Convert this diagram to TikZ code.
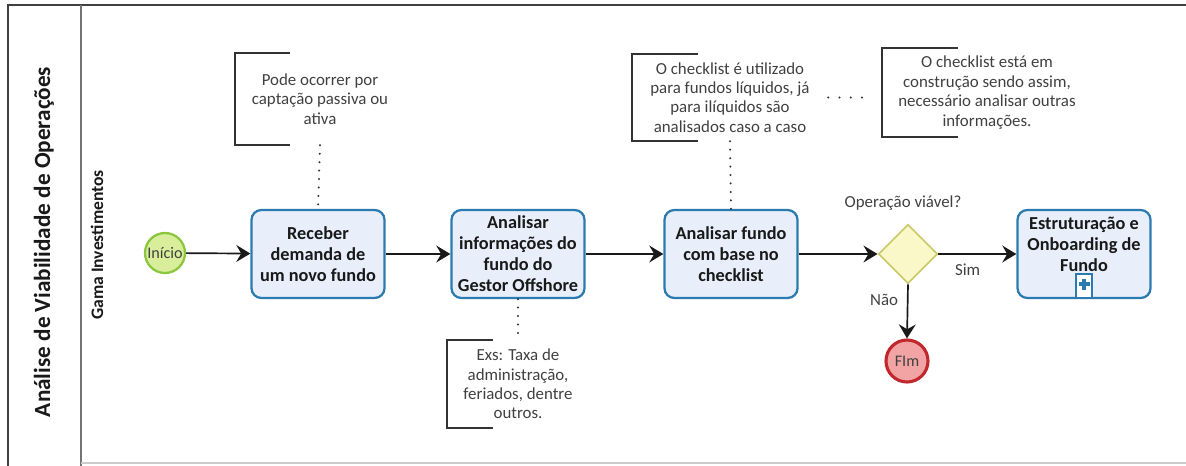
\documentclass[tikz,border=0pt]{standalone}
\usepackage{fontspec}
\setmainfont{Carlito}
\usepackage{tikz}
\usetikzlibrary{arrows.meta,shapes.geometric,positioning}

\definecolor{tarefaborda}{HTML}{2C7BB0}
\definecolor{tarefafundo}{HTML}{E8EEFA}
\definecolor{inicioborda}{HTML}{8CC63F}
\definecolor{iniciofundo}{HTML}{D8EE9A}
\definecolor{fimborda}{HTML}{C0282D}
\definecolor{fimfundo}{HTML}{F2A3A3}
\definecolor{gwborda}{HTML}{C8C86A}
\definecolor{gwfundo}{HTML}{FAF8C8}
\definecolor{textonota}{HTML}{404040}

\tikzset{
  tarefa/.style={draw=tarefaborda, fill=tarefafundo, line width=1.6pt, rounded corners=7pt,
    minimum width=3.325cm, minimum height=2.2cm, align=center,
    font=\fontsize{13}{15}\selectfont\bfseries, text=black!90},
  inicio/.style={circle, draw=inicioborda, fill=iniciofundo, line width=1.6pt,
    minimum size=1cm, inner sep=0pt, font=\fontsize{11.5}{13}\selectfont, text=black!75},
  fim/.style={circle, draw=fimborda, fill=fimfundo, line width=2.2pt,
    minimum size=1.05cm, inner sep=0pt, font=\fontsize{11.5}{13}\selectfont, text=black!75},
  gateway/.style={diamond, aspect=1, draw=gwborda, fill=gwfundo, line width=1.2pt,
    minimum size=1.48cm, inner sep=0pt},
  nota/.style={align=center, font=\fontsize{12}{13.8}\selectfont, text=textonota, inner sep=0pt},
  colchete/.style={draw=black!80, line width=1.2pt},
  assoc/.style={black!80, line width=1.6pt, dash pattern=on 0pt off 6pt, line cap=round},
  fluxo/.style={->, black!90, line width=1.2pt},
  rotulo/.style={font=\fontsize{12}{14}\selectfont, text=textonota},
}

\begin{document}
\begin{tikzpicture}[>={Stealth[length=10pt,width=12pt,inset=3.5pt]},x=0.025cm,y=-0.025cm]
\useasboundingbox (0,0) rectangle (1186,466);

% raia
\draw[black!75, line width=1pt] (8,466) -- (8,5) -- (1186,5);
\draw[black!55, line width=1pt] (81,5) -- (81,466);
\draw[black!20, line width=0.8pt] (81,463) -- (1186,463);
\node[rotate=90, font=\fontsize{16.5}{20}\selectfont\bfseries, text=black!90] (raia) at (44,242) {Análise de Viabilidade de Operações};
\node[rotate=90, font=\fontsize{12.5}{14}\selectfont\bfseries, text=black!90] (empresa) at (97,245) {Gama Investimentos};

% fluxo
\node[inicio] (ini) at (165,253) {Início};
\node[tarefa] (t1) at (318,254) {Receber\\demanda de\\um novo fundo};
\node[tarefa] (t2) at (518,254) {Analisar\\informações do\\fundo do\\Gestor Offshore};
\node[tarefa] (t3) at (731,254) {Analisar fundo\\com base no\\checklist};
\node[gateway] (gw) at (908,254) {};
\node[tarefa] (t4) at (1084,254) {};
\node[tarefa, draw=none, fill=none, minimum size=0pt] (t4txt) at ([yshift=7pt]t4.center) {Estruturação e\\Onboarding de\\Fundo};
\node[fim] (fim) at (907,361) {FIm};
\node[rotulo] (pergunta) at (903,203) {Operação viável?};

% subprocesso
\node[draw=tarefaborda, fill=white, line width=1.4pt, minimum width=0.42cm, minimum height=0.6cm, inner sep=0pt, anchor=south] (mais) at (t4.south) {};
\draw[tarefaborda, line width=2.8pt] ([yshift=1.5pt]mais.center) +(-5.5,0) -- +(5.5,0);
\draw[tarefaborda, line width=2.8pt] ([yshift=1.5pt]mais.center) +(0,-5.5) -- +(0,5.5);

\draw[fluxo] (ini) -- (t1);
\draw[fluxo] (t1) -- (t2);
\draw[fluxo] (t2) -- (t3);
\draw[fluxo] (t3) -- (gw);
\draw[fluxo] (gw.east) -- node[rotulo, below=3pt, pos=0.375] (sim) {Sim} (t4.west);
\draw[fluxo] (gw.south) -- node[rotulo, left=3pt, pos=0.28] (nao) {Não} (fim.north);

% anotacoes
\node[nota, minimum width=4.25cm, minimum height=2.3cm] (n1) at (320,99) {Pode ocorrer por\\captação passiva ou\\ativa};
\node[nota, minimum width=3.55cm, minimum height=2.2cm] (n2) at (518,384) {Exs: Taxa de\\administração,\\feriados, dentre\\outros.};
\node[nota, minimum width=4.9cm, minimum height=2.175cm] (n3) at (730,97.5) {O checklist é utilizado\\para fundos líquidos, já\\para ilíquidos são\\analisados caso a caso};
\node[nota, minimum width=5.25cm, minimum height=2.225cm] (n4) at (987,92.5) {O checklist está em\\construção sendo assim,\\necessário analisar outras\\informações.};

\foreach \n/\l in {n1/55,n2/46,n3/66,n4/76}
  \draw[colchete] ([xshift=\l*0.025cm]\n.north west) -- (\n.north west) -- (\n.south west) -- ([xshift=\l*0.025cm]\n.south west);

\draw[assoc] (n1.south) -- (t1.north);
\draw[assoc] (t2.south) -- (n2.north);
\draw[assoc] (n3.south) -- (t3.north);
\draw[assoc, dash pattern=on 0pt off 8pt] (n3.east) -- ([xshift=-6pt]n3.east -| n4.west);
\end{tikzpicture}
\end{document}
